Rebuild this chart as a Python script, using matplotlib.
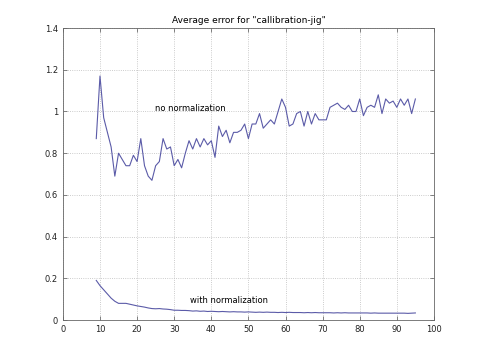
import numpy as np
import matplotlib
matplotlib.use("Agg")
import matplotlib.pyplot as plt

# Number of images used for calibration
n = np.arange(9, 96)

no_norm = [0.87, 1.17, 0.97, 0.90, 0.83, 0.69, 0.80, 0.77, 0.74, 0.74,
           0.79, 0.76, 0.87, 0.74, 0.69, 0.67, 0.74, 0.76, 0.87, 0.82,
           0.83, 0.74, 0.77, 0.73, 0.80, 0.86, 0.82, 0.87, 0.83, 0.87,
           0.84, 0.86, 0.78, 0.93, 0.88, 0.91, 0.85, 0.90, 0.90, 0.91,
           0.94, 0.87, 0.94, 0.94, 0.99, 0.92, 0.94, 0.96, 0.94, 1.00,
           1.06, 1.02, 0.93, 0.94, 0.99, 1.00, 0.93, 1.00, 0.94, 0.99,
           0.96, 0.96, 0.96, 1.02, 1.03, 1.04, 1.02, 1.01, 1.03, 1.00,
           1.00, 1.06, 0.98, 1.02, 1.03, 1.02, 1.08, 0.99, 1.06, 1.04,
           1.05, 1.02, 1.06, 1.03, 1.06, 0.99, 1.06]

with_norm = [0.190, 0.165, 0.145, 0.125, 0.105, 0.090, 0.080, 0.080, 0.080, 0.076,
             0.072, 0.068, 0.065, 0.062, 0.058, 0.055, 0.054, 0.055, 0.053, 0.052,
             0.050, 0.047, 0.047, 0.046, 0.046, 0.045, 0.043, 0.044, 0.042, 0.043,
             0.041, 0.042, 0.041, 0.040, 0.041, 0.040, 0.039, 0.040, 0.039, 0.039,
             0.038, 0.039, 0.038, 0.037, 0.038, 0.037, 0.038, 0.037, 0.037, 0.036,
             0.037, 0.036, 0.037, 0.036, 0.036, 0.036, 0.035, 0.036, 0.035, 0.036,
             0.035, 0.035, 0.035, 0.035, 0.034, 0.035, 0.034, 0.035, 0.034, 0.034,
             0.034, 0.034, 0.034, 0.034, 0.033, 0.034, 0.033, 0.033, 0.033, 0.033,
             0.033, 0.033, 0.033, 0.033, 0.032, 0.033, 0.034]

fig = plt.figure(figsize=(4.8, 3.6), dpi=100)
ax = fig.add_axes([0.131, 0.111, 0.773, 0.811])

col = '#5b5ba8'
ax.plot(n, no_norm, color=col, linewidth=0.8)
ax.plot(n, with_norm, color=col, linewidth=0.8)

ax.text(24.8, 1.016, 'no normalization', fontsize=6, va='center')
ax.text(34.2, 0.096, 'with normalization', fontsize=6, va='center')

ax.set_xlim(0, 100)
ax.set_ylim(0, 1.4)
ax.set_xticks(np.arange(0, 101, 10))
ax.set_yticks([0, 0.2, 0.4, 0.6, 0.8, 1, 1.2, 1.4])
ax.set_yticklabels(['0', '0.2', '0.4', '0.6', '0.8', '1', '1.2', '1.4'])
ax.tick_params(direction='in', labelsize=6, length=3, width=0.5,
               top=True, right=True, colors='#555555', labelcolor='#222222')
ax.grid(True, linestyle=':', linewidth=0.6, color='#bbbbbb')
for s in ax.spines.values():
    s.set_linewidth(0.6)
    s.set_color('#666666')

ax.set_title('Average error for "callibration-jig"', fontsize=6.5, pad=4)

fig.savefig('out.png', dpi=100)
